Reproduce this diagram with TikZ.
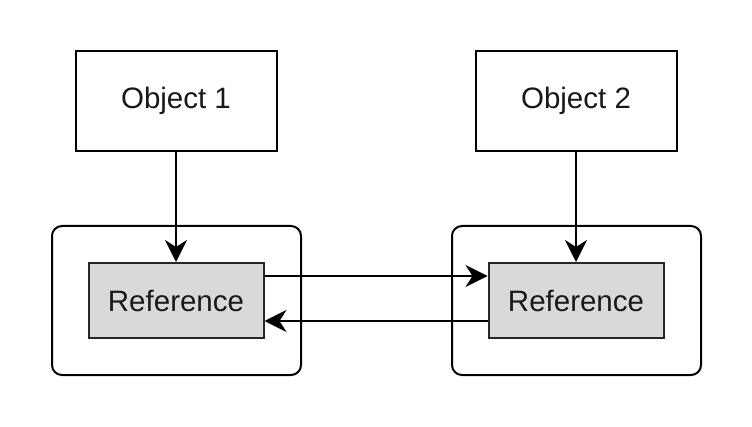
\documentclass[tikz,border=0pt]{standalone}
\usepackage{fontspec}
\setmainfont{Liberation Sans}
\usetikzlibrary{arrows.meta}
\definecolor{refgray}{RGB}{217,217,217}
\definecolor{txt}{RGB}{25,25,25}
\tikzset{
  objbox/.style={draw=black, line width=2pt, fill=white, minimum width=201pt, minimum height=100pt, inner sep=0pt, text=txt, font=\fontsize{29.5}{34}\selectfont},
  outerbox/.style={draw=black, line width=2pt, rounded corners=10pt, minimum width=249pt, minimum height=149pt, inner sep=0pt},
  refbox/.style={draw=black!85, line width=2pt, fill=refgray, minimum width=175pt, minimum height=75pt, inner sep=0pt, text=txt, font=\fontsize{29.5}{34}\selectfont},
  conn/.style={line width=2pt, -{Stealth[length=22pt,width=22pt,inset=7pt]}}
}
\begin{document}
\begin{tikzpicture}[x=1pt,y=-1pt]
\useasboundingbox (0,0) rectangle (752,427);
\node[objbox] (obj1) at (176,101) {\raisebox{-2pt}{Object 1}};
\node[objbox] (obj2) at (576,101) {\raisebox{-2pt}{Object 2}};
\node[outerbox] (out1) at (176.5,300.5) {};
\node[outerbox] (out2) at (576.5,300.5) {};
\node[refbox] (ref1) at (176,300.5) {\raisebox{-1pt}{Reference}};
\node[refbox] (ref2) at (576,300.5) {\raisebox{-1pt}{Reference}};
\draw[conn] (obj1.south) -- (ref1.north);
\draw[conn] (obj2.south) -- (ref2.north);
\draw[conn] ([yshift=24.5pt]ref1.east) -- ([yshift=24.5pt]ref2.west);
\draw[conn] ([yshift=-20.5pt]ref2.west) -- ([yshift=-20.5pt]ref1.east);
\end{tikzpicture}
\end{document}
